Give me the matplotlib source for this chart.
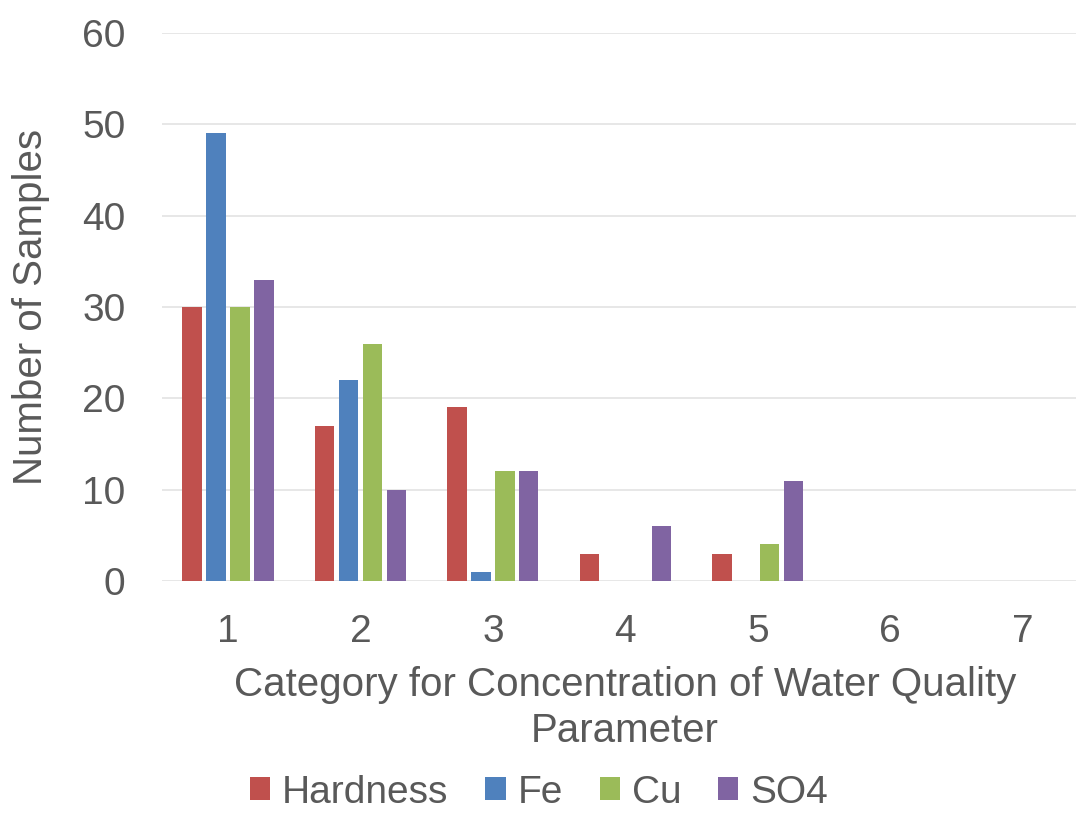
import matplotlib.pyplot as plt
import numpy as np

categories = ['1', '2', '3', '4', '5', '6', '7']
hardness = [30, 17, 19, 3, 3, 0, 0]
fe = [49, 22, 1, 0, 0, 0, 0]
cu = [30, 26, 12, 0, 4, 0, 0]
so4 = [33, 10, 12, 6, 11, 0, 0]

series = [('Hardness', hardness, '#C0504D'),
          ('Fe', fe, '#4F81BD'),
          ('Cu', cu, '#9BBB59'),
          ('SO4', so4, '#8064A2')]

text_color = '#595959'
tick_fs = 28
label_fs = 29
plt.rcParams['font.family'] = ['Liberation Sans', 'DejaVu Sans']

fig = plt.figure(figsize=(10.78, 8.13), dpi=100)
ax = fig.add_axes([0.150, 0.2854, 0.848, 0.674])

x = np.arange(1, len(categories) + 1)
step = 0.181
width = 0.145
for i, (name, vals, color) in enumerate(series):
    ax.bar(x + (i - 1.5) * step, vals, width, color=color, label=name, zorder=3)

ax.set_xlim(0.5, 7.4)
ax.set_ylim(0, 60)
ax.set_yticks(range(0, 61, 10))
ax.set_xticks(x)
ax.set_xticklabels(categories)

ax.grid(axis='y', color='#E3E3E3', linewidth=1.2, zorder=0)
for s in ax.spines.values():
    s.set_visible(False)
ax.tick_params(length=0, labelsize=tick_fs, colors=text_color)
ax.tick_params(axis='y', pad=26)
ax.tick_params(axis='x', pad=24)

ax.set_xlabel('Category for Concentration of Water Quality\nParameter',
              fontsize=label_fs, color=text_color, labelpad=11, linespacing=1.27)
ax.xaxis.label.set_x(0.507)
ax.set_ylabel('Number of Samples', fontsize=label_fs, color=text_color, labelpad=23)

fig.legend(loc='lower center', bbox_to_anchor=(0.5, -0.040), ncol=4, frameon=False,
           fontsize=tick_fs, labelcolor=text_color, handlelength=0.52, handleheight=0.52,
           handletextpad=0.3, columnspacing=0.95)

fig.savefig('out.png', dpi=100)
